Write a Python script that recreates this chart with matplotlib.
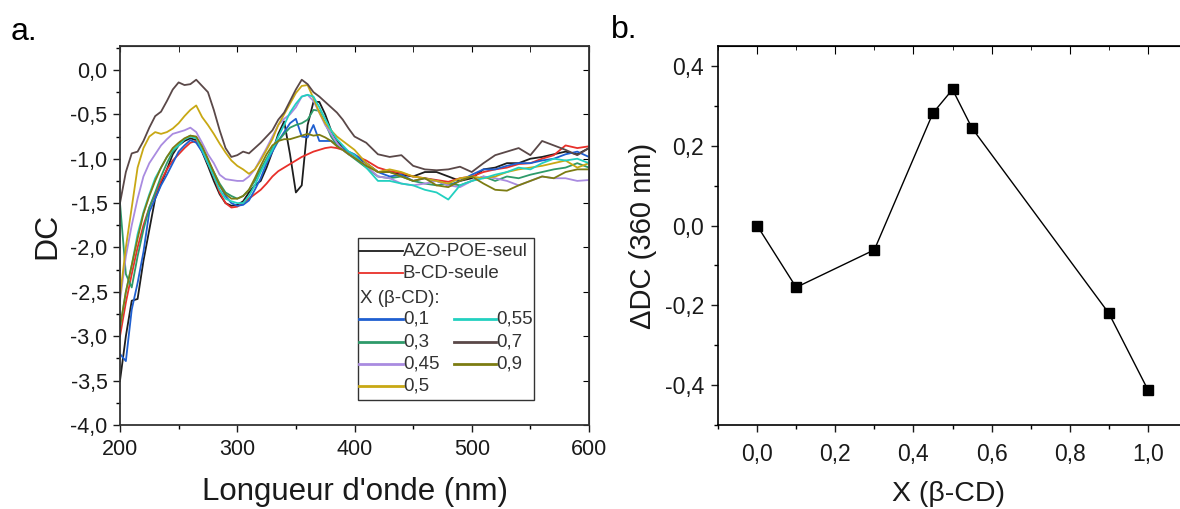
import matplotlib
matplotlib.use("Agg")
import matplotlib.pyplot as plt
from matplotlib.ticker import MultipleLocator, FuncFormatter
from matplotlib.lines import Line2D
from matplotlib.patches import Rectangle

plt.rcParams['font.family'] = ['Liberation Sans', 'DejaVu Sans']

# ---------------- data: panel a ----------------
wavelength = [200, 205, 210, 215, 220, 225, 230, 235, 240, 245, 250, 255, 260, 265, 270,
              275, 280, 285, 290, 295, 300, 305, 310, 315, 320, 325, 330, 335, 340, 345,
              350, 355, 360, 365, 370, 375, 380, 385, 390, 395, 400,
              410, 420, 430, 440, 450, 460, 470, 480, 490, 500, 510, 520, 530, 540, 550,
              560, 570, 580, 590, 600]

azo_poe_seul = [-3.5, -3.0, -2.6, -2.58, -2.15, -1.8, -1.45, -1.28, -1.12, -0.95, -0.85, -0.8, -0.77, -0.79, -0.92,
                -1.08, -1.25, -1.4, -1.5, -1.53, -1.52, -1.48, -1.38, -1.3, -1.25, -1.1, -0.92, -0.72, -0.58, -0.95,
                -1.38, -1.3, -0.62, -0.36, -0.36, -0.5, -0.68, -0.8, -0.88, -0.93, -0.97,
                -1.05, -1.15, -1.15, -1.18, -1.2, -1.15, -1.15, -1.2, -1.25, -1.22, -1.12, -1.1, -1.05, -1.05, -1.0,
                -0.98, -0.95, -0.92, -0.95, -0.88]
b_cd_seule = [-3.0, -2.62, -2.3, -2.0, -1.75, -1.55, -1.4, -1.25, -1.12, -1.02, -0.95, -0.88, -0.82, -0.8, -0.9,
              -1.05, -1.2, -1.38, -1.5, -1.55, -1.54, -1.5, -1.45, -1.4, -1.35, -1.28, -1.2, -1.14, -1.1, -1.06,
              -1.02, -0.98, -0.95, -0.92, -0.9, -0.88, -0.87, -0.88, -0.9, -0.93, -0.96,
              -1.02, -1.1, -1.14, -1.16, -1.2, -1.22, -1.24, -1.26, -1.22, -1.2, -1.15, -1.12, -1.1, -1.06, -1.05,
              -1.0, -0.96, -0.85, -0.88, -0.86]
x_010 = [-3.2, -3.28, -2.7, -2.4, -2.05, -1.6, -1.45, -1.3, -1.18, -1.05, -0.92, -0.85, -0.79, -0.82, -0.92,
         -1.05, -1.18, -1.3, -1.42, -1.5, -1.53, -1.52, -1.47, -1.35, -1.22, -1.05, -0.92, -0.8, -0.7, -0.6,
         -0.55, -0.75, -0.76, -0.62, -0.8, -0.8, -0.8, -0.85, -0.88, -0.92, -0.95,
         -1.05, -1.15, -1.2, -1.18, -1.25, -1.22, -1.25, -1.3, -1.25, -1.18, -1.12, -1.12, -1.08, -1.05, -1.05,
         -1.02, -1.0, -0.95, -0.92, -0.98]
x_030 = [-1.5, -2.3, -2.45, -2.1, -1.8, -1.55, -1.38, -1.2, -1.05, -0.92, -0.85, -0.78, -0.74, -0.76, -0.88,
         -1.02, -1.15, -1.28, -1.38, -1.42, -1.45, -1.42, -1.35, -1.25, -1.12, -1.0, -0.88, -0.8, -0.72, -0.65,
         -0.62, -0.6, -0.56, -0.45, -0.46, -0.6, -0.75, -0.85, -0.9, -0.95, -1.0,
         -1.1, -1.2, -1.22, -1.2, -1.25, -1.28, -1.3, -1.28, -1.3, -1.25, -1.2, -1.25, -1.2, -1.22, -1.18,
         -1.15, -1.12, -1.1, -1.05, -1.1]
x_045 = [-2.6, -2.1, -1.75, -1.45, -1.2, -1.05, -0.95, -0.85, -0.78, -0.72, -0.7, -0.68, -0.65, -0.7, -0.82,
         -0.95, -1.05, -1.18, -1.23, -1.24, -1.25, -1.25, -1.2, -1.12, -1.0, -0.88, -0.75, -0.62, -0.55, -0.5,
         -0.42, -0.3, -0.28, -0.35, -0.48, -0.62, -0.72, -0.82, -0.9, -0.95, -0.98,
         -1.08, -1.2, -1.22, -1.28, -1.3, -1.28, -1.25, -1.3, -1.32, -1.25, -1.2, -1.22, -1.25, -1.3, -1.25,
         -1.2, -1.22, -1.22, -1.25, -1.24]
x_050 = [-2.55, -2.0, -1.55, -1.1, -0.88, -0.75, -0.7, -0.72, -0.7, -0.66, -0.6, -0.52, -0.45, -0.4, -0.53,
         -0.62, -0.72, -0.83, -0.93, -1.02, -1.08, -1.12, -1.17, -1.12, -1.02, -0.9, -0.78, -0.62, -0.5, -0.38,
         -0.26, -0.18, -0.17, -0.32, -0.48, -0.6, -0.68, -0.75, -0.8, -0.85, -0.9,
         -1.05, -1.15, -1.12, -1.15, -1.2, -1.22, -1.25, -1.28, -1.22, -1.2, -1.22, -1.2, -1.15, -1.12, -1.1,
         -1.08, -1.05, -1.02, -1.1, -1.05]
x_055 = [-2.9, -2.5, -2.2, -1.85, -1.6, -1.4, -1.22, -1.1, -0.98, -0.9, -0.85, -0.78, -0.75, -0.77, -0.9,
         -1.05, -1.2, -1.35, -1.45, -1.48, -1.5, -1.5, -1.42, -1.3, -1.15, -1.02, -0.9, -0.75, -0.62, -0.48,
         -0.38, -0.3, -0.28, -0.3, -0.42, -0.55, -0.68, -0.78, -0.85, -0.92, -0.96,
         -1.1, -1.25, -1.25, -1.28, -1.3, -1.35, -1.38, -1.46, -1.3, -1.25, -1.22, -1.18, -1.15, -1.1, -1.12,
         -1.05, -1.0, -1.02, -1.0, -1.05]
x_070 = [-1.5, -1.15, -0.94, -0.92, -0.8, -0.65, -0.52, -0.47, -0.35, -0.22, -0.14, -0.17, -0.16, -0.11, -0.18,
         -0.25, -0.45, -0.68, -0.88, -0.98, -0.96, -0.92, -0.94, -0.88, -0.82, -0.75, -0.68, -0.56, -0.48, -0.35,
         -0.22, -0.11, -0.16, -0.25, -0.3, -0.36, -0.42, -0.48, -0.56, -0.66, -0.75,
         -0.82, -0.95, -0.98, -0.96, -1.08, -1.12, -1.13, -1.12, -1.09, -1.15, -1.05, -0.96, -0.92, -0.88, -0.96,
         -0.8, -0.85, -0.9, -0.96, -0.88]
x_090 = [-2.9, -2.5, -2.2, -1.9, -1.62, -1.42, -1.25, -1.1, -0.98, -0.88, -0.82, -0.77, -0.74, -0.75, -0.86,
         -1.0, -1.15, -1.3, -1.4, -1.45, -1.45, -1.42, -1.35, -1.22, -1.08, -0.95, -0.85, -0.8, -0.78, -0.78,
         -0.76, -0.74, -0.72, -0.74, -0.73, -0.76, -0.8, -0.86, -0.9, -0.95, -0.99,
         -1.08, -1.15, -1.15, -1.2, -1.25, -1.22, -1.3, -1.32, -1.25, -1.2, -1.28, -1.35, -1.36, -1.3, -1.25,
         -1.2, -1.22, -1.15, -1.12, -1.12]

ref_labels = ['AZO-POE-seul', 'B-CD-seule']
ref_series = [azo_poe_seul, b_cd_seule]
ref_colors = ['#1e1e1e', '#e8302a']

mix_labels = ['0,1', '0,3', '0,45', '0,5', '0,55', '0,7', '0,9']
mix_series = [x_010, x_030, x_045, x_050, x_055, x_070, x_090]
mix_colors = ['#1f5fd0', '#2e9a6a', '#a98be0', '#c8a814', '#22d0c0', '#5a4848', '#7c7c12']

# ---------------- data: panel b ----------------
x_bcd = [0.0, 0.1, 0.3, 0.45, 0.5, 0.55, 0.9, 1.0]
delta_dc = [0.0, -0.155, -0.061, 0.282, 0.341, 0.244, -0.220, -0.412]

# ---------------- figure ----------------
W, H = 1180, 509
fig = plt.figure(figsize=(W / 100, H / 100), dpi=100)

def frac_box(l, r, t, b):
    return [l / W, 1 - b / H, (r - l) / W, (b - t) / H]

comma1 = FuncFormatter(lambda v, p: f"{v:.1f}".replace('.', ',').replace('\u2212', '-'))
TXT = '#1a1a1a'

# ---- panel a ----
axa = fig.add_axes(frac_box(120, 589, 46, 425))
for ser, col in zip(ref_series + mix_series, ref_colors + mix_colors):
    axa.plot(wavelength, ser, color=col, lw=1.3)
axa.set_xlim(200, 600)
axa.set_ylim(-4.0, 0.27)
axa.xaxis.set_major_locator(MultipleLocator(100))
axa.xaxis.set_minor_locator(MultipleLocator(50))
axa.yaxis.set_major_locator(MultipleLocator(0.5))
axa.yaxis.set_minor_locator(MultipleLocator(0.25))
axa.yaxis.set_major_formatter(comma1)
axa.tick_params(axis='both', which='major', direction='out', length=5, width=1.0,
                labelsize=15.5, pad=4, colors=TXT)
axa.tick_params(axis='x', which='major', pad=5)
axa.tick_params(axis='both', which='minor', direction='out', length=3, width=1.0)
for s in axa.spines.values():
    s.set_linewidth(1.3)
    s.set_color('#333333')
secx = axa.secondary_xaxis('top')
secx.xaxis.set_major_locator(MultipleLocator(100))
secx.xaxis.set_minor_locator(MultipleLocator(50))
secx.tick_params(which='both', direction='in', labeltop=False, length=4)
secy = axa.secondary_yaxis('right')
secy.yaxis.set_major_locator(MultipleLocator(0.5))
secy.tick_params(which='both', direction='in', labelright=False, length=4)
axa.set_xlabel("Longueur d'onde (nm)", fontsize=22.5, color=TXT, va='center')
axa.xaxis.set_label_coords(0.5, -0.178)
axa.set_ylabel("DC", fontsize=23, labelpad=6, color=TXT)

# custom legend in axes coordinates
tr = axa.transAxes
axa.add_patch(Rectangle((0.507, 0.066), 0.376, 0.427, transform=tr, fill=True,
                        facecolor='white', edgecolor='#333333', lw=1.0, zorder=5))
row_y = [0.459, 0.401, 0.335, 0.280, 0.219, 0.161, 0.103]
leg_fs = 13.5
LEG_TXT = '#333333'
for lab, col, yy in zip(ref_labels, ref_colors, row_y[:2]):
    axa.add_line(Line2D([0.509, 0.603], [yy, yy], transform=tr, color=col, lw=1.3, zorder=6))
    axa.text(0.603, yy, lab, transform=tr, fontsize=leg_fs, va='center', ha='left', zorder=6, color=LEG_TXT)
axa.text(0.511, row_y[2], "X (\u03b2-CD):", transform=tr, fontsize=leg_fs, va='center', ha='left',
         zorder=6, color=LEG_TXT)
col_pos = [(0.509, 0.603, 0.603)] * 4 + [(0.712, 0.802, 0.802)] * 3
row_idx = [3, 4, 5, 6, 3, 4, 5]
for lab, col, (x0, x1, xt), ri in zip(mix_labels, mix_colors, col_pos, row_idx):
    yy = row_y[ri]
    axa.add_line(Line2D([x0, x1], [yy, yy], transform=tr, color=col, lw=2.0, zorder=6))
    axa.text(xt, yy, lab, transform=tr, fontsize=leg_fs, va='center', ha='left', zorder=6, color=LEG_TXT)

# ---- panel b ----
axb = fig.add_axes(frac_box(718, 1180, 46, 425))
axb.plot(x_bcd, delta_dc, color='black', lw=1.0, marker='s', markersize=6.5,
         markerfacecolor='black', markeredgecolor='black')
axb.set_xlim(-0.1, 1.082)
axb.set_ylim(-0.5, 0.45)
axb.xaxis.set_major_locator(MultipleLocator(0.2))
axb.xaxis.set_minor_locator(MultipleLocator(0.1))
axb.yaxis.set_major_locator(MultipleLocator(0.2))
axb.yaxis.set_minor_locator(MultipleLocator(0.1))
axb.xaxis.set_major_formatter(comma1)
axb.yaxis.set_major_formatter(comma1)
axb.tick_params(axis='both', which='major', direction='out', length=5, width=1.0,
                labelsize=16.5, pad=5, colors=TXT)
axb.tick_params(axis='x', which='major', pad=8)
axb.tick_params(axis='both', which='minor', direction='out', length=3, width=1.0)
axb.spines['right'].set_visible(False)
for k in ['left', 'bottom', 'top']:
    axb.spines[k].set_linewidth(1.2)
secxb = axb.secondary_xaxis('top')
secxb.xaxis.set_major_locator(MultipleLocator(0.2))
secxb.xaxis.set_minor_locator(MultipleLocator(0.1))
secxb.tick_params(which='major', direction='in', labeltop=False, length=6)
secxb.tick_params(which='minor', direction='in', length=3)
axb.set_xlabel("X (\u03b2-CD)", fontsize=20.5, color=TXT, va='center')
axb.xaxis.set_label_coords(0.5, -0.183)
axb.set_ylabel("\u0394DC (360 nm)", fontsize=21, labelpad=6, color=TXT)

fig.text(11 / W, 1 - 40 / H, "a.", fontsize=23, ha='left', va='baseline')
fig.text(611 / W, 1 - 38 / H, "b.", fontsize=23, ha='left', va='baseline')

fig.savefig("out.png", dpi=100, facecolor='white')
